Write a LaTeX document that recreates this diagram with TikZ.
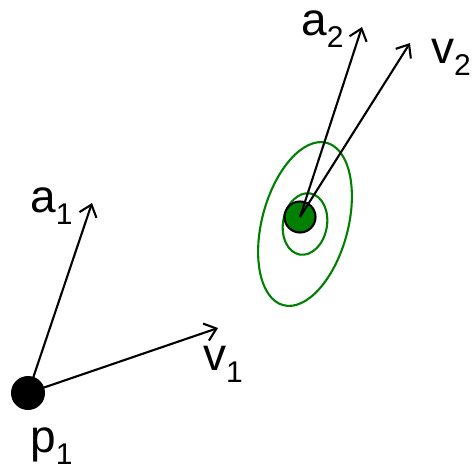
\documentclass[tikz,border=0pt]{standalone}
\usepackage{fontspec}
\setmainfont{Liberation Sans}
\usetikzlibrary{arrows.meta}
\newcommand{\vlab}[2]{#1\raisebox{-12pt}{\fontsize{30}{30}\selectfont #2}}

\begin{document}
\begin{tikzpicture}[x=1pt,y=-1pt]
\tikzset{vec/.style={line width=2.1pt,-{Straight Barb[length=11pt,width=18pt,line width=2.1pt]}},
  ring/.style={draw=green!50!black,line width=2.1pt},
  lbl/.style={anchor=base west,inner sep=0pt,text height=24pt,font=\fontsize{46}{46}\selectfont}}
\useasboundingbox (0,0) rectangle (472,469);
% uncertainty rings round the second point
\coordinate (ringc) at (305,224);
\draw[ring] (ringc) ellipse [x radius=43,y radius=84,rotate=-15];
\draw[ring] (ringc) ellipse [x radius=22,y radius=31,rotate=-10];
\node (p1) at (28,393) [circle,fill=black,inner sep=0pt,minimum size=34pt] {};
\node (p2) at (300,217) [circle,draw=black,line width=2.1pt,fill=green!50!black,inner sep=0pt,minimum size=31pt] {};
\coordinate (a1) at (92,203);
\coordinate (v1) at (218,328);
\coordinate (a2) at (362,27);
\coordinate (v2) at (410,43);
\node (la1) at (30,212) [lbl] {\vlab{a}{1}};
\node (lv1) at (203,370) [lbl] {\vlab{v}{1}};
\node (lp1) at (30,452) [lbl] {\vlab{p}{1}};
\node (la2) at (301,35) [lbl] {\vlab{a}{2}};
\node (lv2) at (431,63) [lbl] {\vlab{v}{2}};

\draw[vec] (p1.center) -- (a1);
\draw[vec] (p1.center) -- (v1);
\draw[vec] (p2.center) -- (a2);
\draw[vec] (p2.center) -- (v2);
\end{tikzpicture}
\end{document}
